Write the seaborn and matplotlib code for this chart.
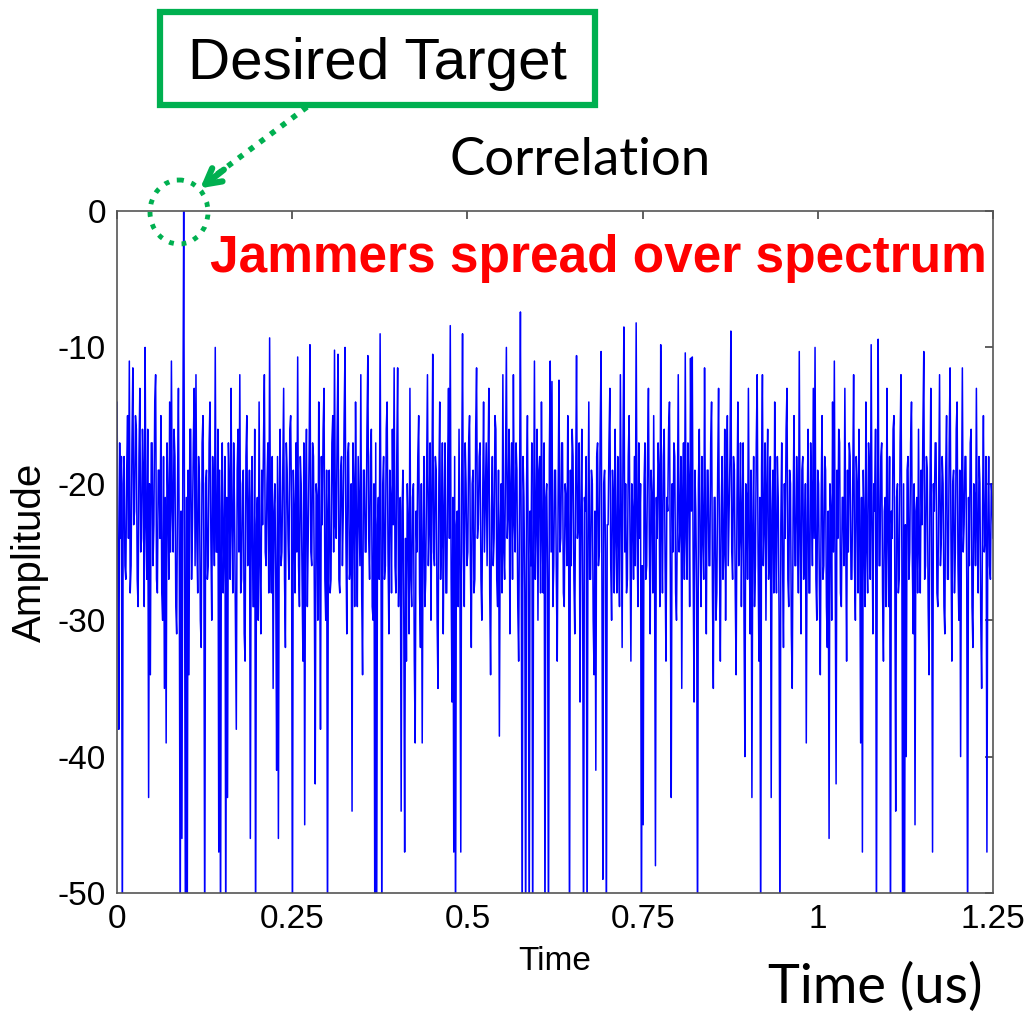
import numpy as np
import pandas as pd
import matplotlib
matplotlib.use("Agg")
import matplotlib.pyplot as plt
from matplotlib.patches import Rectangle, Ellipse
import seaborn as sns

# Correlation output (dB): ten chunks of 100 samples over 0..1.25 us
amp_00 = [-14, -25, -38, -17, -24, -18, -55, -20, -18, -26, -27, -19, -15, -24, -11, -28, -26, -17, -11.5, -23,
          -22, -15, -16, -27, -29, -18, -13, -25, -24, -16, -19, -29, -10, -23, -27, -16, -43, -20, -34, -17,
          -17, -26, -23, -14, -12, -27, -28, -19, -19, -24, -15, -28, -30, -18, -35, -21, -39, -17, -21, -27,
          -14, -25, -11, -22, -25, -16, -18, -29, -31, -20, -13, -26, -55, -22, -46, -18, 0, -25, -55, -21,
          -55, -19, -34, -16, -16, -27, -23, -17, -13, -26, -12, -24, -28, -18, -20, -30, -32, -17, -15, -25]
amp_01 = [-55, -20, -19, -27, -26, -17, -14, -24, -30, -18, -21, -26, -10, -25, -25, -16, -47, -19, -55, -22,
          -17, -28, -24, -18, -55, -21, -43, -17, -20, -27, -13, -23, -28, -17, -22, -30, -38, -19, -16, -25,
          -12, -28, -27, -20, -19, -31, -33, -18, -15, -26, -24, -19, -46, -21, -18, -29, -29, -16, -55, -23,
          -21, -30, -14, -26, -31, -19, -23, -17, -12, -25, -26, -20, -17, -28, -9.3, -24, -28, -18, -35, -22,
          -20, -27, -41, -18, -46, -21, -16, -26, -25, -19, -13, -27, -32, -17, -19, -24, -27, -16, -15, -22]
amp_02 = [-55, -19, -22, -28, -17, -25, -10.7, -26, -29, -18, -20, -27, -33, -17, -45, -21, -16, -29, -24, -18,
          -9.8, -25, -26, -17, -18, -28, -42, -20, -21, -30, -14, -24, -38, -18, -23, -16, -13, -27, -30, -19,
          -55, -22, -19, -28, -27, -17, -15, -25, -10.2, -23, -24, -16, -10.5, -27, -28, -19, -18, -26, -22, -15,
          -10, -24, -31, -18, -17, -27, -26, -20, -44, -17, -20, -29, -14, -23, -29, -18, -22, -26, -12, -28,
          -34, -19, -19, -25, -25, -16, -10.6, -24, -27, -18, -16, -29, -30, -20, -55, -17, -55, -23, -21, -27]
amp_03 = [-9, -24, -55, -20, -18, -27, -26, -16, -14, -25, -31, -19, -21, -28, -16, -23, -11.5, -26, -28, -18,
          -11.5, -29, -24, -21, -44, -22, -19, -30, -47, -24, -33, -20, -23, -31, -13, -27, -29, -21, -20, -33,
          -39, -22, -25, -18, -15, -28, -32, -20, -39, -24, -18, -29, -27, -19, -12, -26, -23, -17, -30, -21,
          -10.5, -25, -26, -18, -19, -30, -35, -20, -14, -27, -24, -17, -31, -22, -17, -28, -28, -19, -13, -24,
          -8.4, -27, -36, -21, -47, -18, -55, -23, -22, -29, -16, -26, -47, -20, -9, -25, -29, -17, -20, -26]
amp_04 = [-25, -17, -15, -26, -32, -20, -19, -28, -27, -16, -11.5, -24, -23, -18, -17, -27, -30, -21, -14, -25,
          -21, -17, -26, -19, -13, -28, -34, -22, -18, -26, -24, -15, -16, -27, -29, -19, -38.5, -23, -20, -28,
          -12, -25, -27, -18, -10, -24, -22, -16, -31, -20, -17, -27, -12, -23, -25, -17, -19, -29, -33, -21,
          -7.4, -26, -55, -18, -21, -28, -55, -20, -15, -26, -55, -22, -26, -17, -55, -24, -11, -27, -23, -16,
          -30, -19, -18, -28, -14, -24, -28, -17, -55, -21, -20, -27, -55, -18, -11, -25, -12.5, -29, -26, -19]
amp_05 = [-19, -27, -33, -21, -12.4, -25, -24, -17, -17, -28, -29, -20, -21, -26, -15, -23, -55, -19, -26, -16,
          -18, -27, -31, -20, -10.6, -24, -23, -17, -36, -22, -16, -28, -55, -21, -22, -18, -55, -24, -14, -27,
          -27, -19, -20, -30, -34, -22, -41, -18, -17, -26, -25, -16, -10.3, -28, -49, -20, -19, -25, -55, -23,
          -23, -17, -13, -26, -30, -19, -21, -28, -16, -24, -28, -18, -24, -29, -12, -22, -32, -17, -8.5, -25,
          -20, -28, -27, -18, -15, -24, -33, -20, -22, -27, -18, -26, -8.2, -23, -29, -17, -24, -20, -55, -26]
amp_06 = [-45, -20, -17, -27, -26, -18, -13, -24, -31, -19, -21, -28, -15, -26, -48, -21, -24, -17, -19, -29,
          -9.8, -23, -28, -18, -16, -26, -33, -21, -22, -16, -14, -27, -43, -20, -25, -17, -18, -28, -30, -22,
          -12, -25, -23, -18, -35, -21, -17, -27, -10.4, -24, -27, -17, -20, -29, -10.8, -22, -10.7, -26, -36, -19,
          -22, -28, -55, -20, -16, -25, -29, -18, -24, -27, -11.5, -23, -31, -19, -19, -26, -26, -17, -14, -28,
          -35, -21, -21, -30, -28, -19, -13, -25, -33, -22, -18, -27, -25, -16, -30, -20, -15, -26, -22, -18]
amp_07 = [-8.8, -25, -27, -18, -19, -28, -34, -21, -14, -26, -24, -17, -29, -22, -17, -30, -40, -20, -21, -27,
          -13, -24, -31, -19, -43, -23, -18, -29, -26, -17, -12, -25, -33, -21, -55, -19, -12, -26, -23, -17,
          -30, -20, -16, -27, -25, -18, -43, -22, -19, -28, -14, -24, -28, -18, -21, -30, -55, -23, -17, -26,
          -32, -20, -24, -16, -13, -27, -29, -19, -20, -31, -35, -22, -15, -26, -26, -18, -22, -28, -10.3, -24,
          -31, -19, -18, -27, -25, -20, -39, -23, -16, -28, -28, -17, -21, -26, -13, -24, -10, -27, -30, -19]
amp_08 = [-20, -28, -34, -21, -15, -27, -26, -18, -19, -29, -32, -22, -46, -20, -22, -30, -14, -25, -11, -27,
          -42, -19, -24, -16, -17, -28, -29, -21, -21, -26, -13, -24, -33, -19, -25, -17, -18, -27, -27, -20,
          -12, -26, -30, -18, -20, -28, -16, -24, -39, -21, -47, -19, -23, -29, -14, -25, -28, -17, -19, -27,
          -9.8, -23, -31, -20, -22, -16, -55, -21, -9.4, -26, -26, -18, -17, -28, -33, -22, -21, -29, -13, -24,
          -29, -18, -55, -22, -24, -16, -15, -27, -44, -21, -20, -28, -27, -17, -12, -25, -55, -20, -55, -23]
amp_09 = [-40, -19, -18, -27, -25, -17, -14, -26, -31, -20, -45, -22, -21, -28, -16, -25, -28, -19, -23, -16,
          -10.3, -27, -26, -18, -19, -29, -34, -21, -13, -25, -47, -20, -22, -17, -17, -28, -29, -21, -12, -26,
          -24, -18, -20, -29, -31, -19, -15, -27, -27, -17, -11.5, -24, -33, -20, -19, -28, -25, -16, -14, -26,
          -30, -19, -40, -22, -11.5, -25, -23, -18, -18, -27, -55, -21, -26, -17, -16, -29, -32, -20, -21, -26,
          -13, -24, -28, -18, -20, -30, -35, -22, -15, -25, -24, -18, -47, -23, -18, -26, -27, -20, -21, -24]

x_ticks = [0, 0.25, 0.5, 0.75, 1, 1.25]
x_tick_labels = ["0", "0.25", "0.5", "0.75", "1", "1.25"]
y_ticks = [0, -10, -20, -30, -40, -50]

amp = np.concatenate([amp_00, amp_01, amp_02, amp_03, amp_04,
                      amp_05, amp_06, amp_07, amp_08, amp_09])
df = pd.DataFrame({"time": np.linspace(0, 1.25, len(amp)), "amplitude": amp})

GREEN = "#00B050"

sns.set_style("white")
plt.rcParams["font.family"] = ["Liberation Sans", "DejaVu Sans"]
plt.rcParams["axes.unicode_minus"] = False
plt.rcParams["text.color"] = "black"
plt.rcParams["axes.labelcolor"] = "black"
plt.rcParams["xtick.color"] = "black"
plt.rcParams["ytick.color"] = "black"

fig = plt.figure(figsize=(10.34, 10.18), dpi=100)
ax = fig.add_axes([0.1132, 0.1228, 0.8472, 0.6699])

sns.lineplot(data=df, x="time", y="amplitude", color="blue", linewidth=1.1,
             estimator=None, sort=False, ax=ax)

ax.set_xlim(0, 1.25)
ax.set_ylim(-50, 0)
ax.set_xticks(x_ticks)
ax.set_xticklabels(x_tick_labels)
ax.set_yticks(y_ticks)
ax.tick_params(direction="in", top=True, right=True, length=6, width=1.2,
               labelsize=24, pad=8)
ax.tick_params(color="#444444")
for s in ax.spines.values():
    s.set_color("#555555")
    s.set_linewidth(1.2)
ax.set_xlabel("Time", fontsize=24, labelpad=8)
ax.set_ylabel("Amplitude", fontsize=29, labelpad=6)

# overlay in pixel coordinates for the slide annotations
ov = fig.add_axes([0, 0, 1, 1])
ov.set_xlim(0, 1034)
ov.set_ylim(1018, 0)
ov.axis("off")

ov.add_patch(Rectangle((160, 12), 435, 93, fill=False, edgecolor=GREEN, linewidth=4.5))
ov.text(377, 79, "Desired Target", fontsize=42, ha="center", va="baseline")

ov.plot([307, 212], [107, 178], color=GREEN, linewidth=4, linestyle=(0, (1, 1.4)))
ov.annotate("", xy=(198, 190), xytext=(226, 168),
            arrowprops=dict(arrowstyle="->,head_length=1.1,head_width=0.6",
                            color=GREEN, linewidth=4.5))
ov.add_patch(Ellipse((179, 212), 58, 64, fill=False, edgecolor=GREEN,
                     linewidth=3.5, linestyle=(0, (1, 1.6))))

ov.text(580, 175, "Correlation", fontsize=38, ha="center", va="baseline",
        family=["Lato", "DejaVu Sans"])
ov.text(210, 272, "Jammers spread over spectrum", fontsize=37, fontweight="bold",
        color="red", ha="left", va="baseline")
ov.text(768, 1003, "Time (us)", fontsize=39, ha="left", va="baseline",
        family=["Lato", "DejaVu Sans"])

fig.savefig("out.png", dpi=100)
